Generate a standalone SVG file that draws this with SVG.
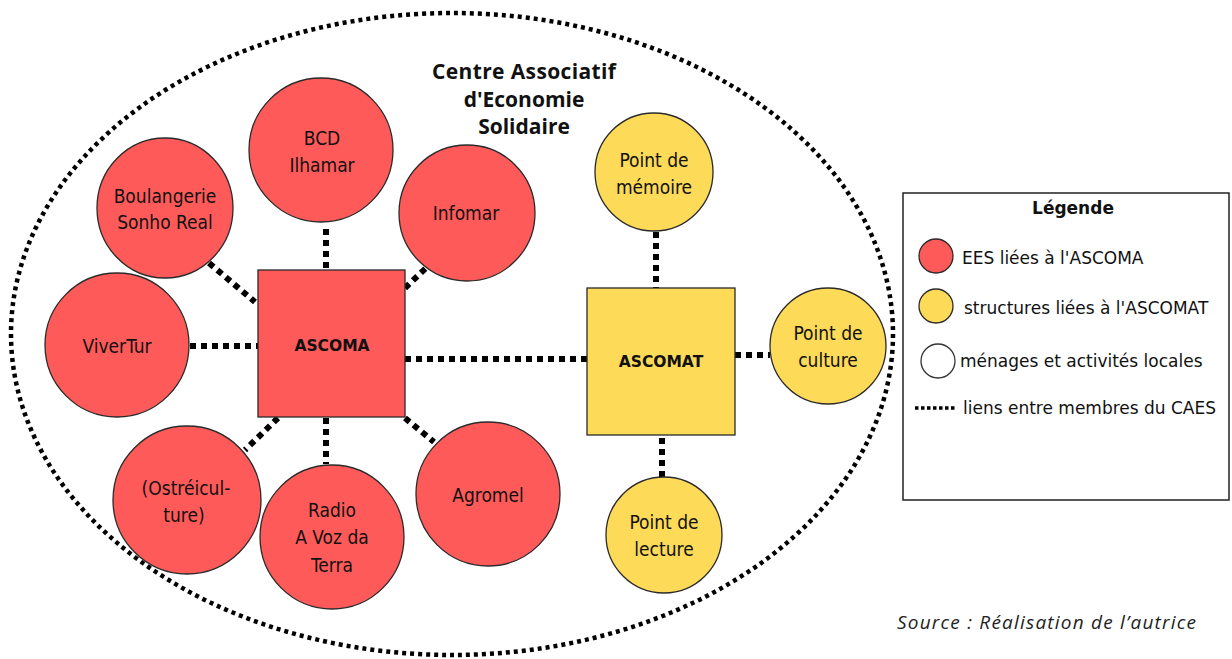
<svg xmlns="http://www.w3.org/2000/svg" width="1232" height="659" viewBox="0 0 1232 659">
<style>
.red{fill:#ff5a5a;stroke:#2a2a2a;stroke-width:1.3}
.yel{fill:#fdda58;stroke:#2a2a2a;stroke-width:1.3}
.lbl{font-family:"DejaVu Sans Condensed","DejaVu Sans",sans-serif;font-stretch:condensed;font-size:19px;fill:#111;text-anchor:middle}
.bold{font-family:"DejaVu Sans",sans-serif;font-weight:bold;font-size:15.5px;fill:#111;text-anchor:middle}
.ttl{font-family:"Open Sans","Noto Sans",sans-serif;font-weight:bold;font-size:21px;fill:#111;text-anchor:middle}
.lnk{stroke:#000;stroke-width:6;stroke-dasharray:6 5;fill:none}
.leg{font-family:"DejaVu Sans",sans-serif;font-size:17px;fill:#111}
</style>
<rect width="1232" height="659" fill="#fff"/>
<ellipse id="caes" cx="452" cy="334" rx="441" ry="321" fill="none" stroke="#000" stroke-width="4.5" stroke-dasharray="4 4"/>
<g id="title">
<text class="ttl" x="524" y="79" textLength="184">Centre Associatif</text>
<text class="ttl" x="524" y="107">d'Economie</text>
<text class="ttl" x="524" y="134">Solidaire</text>
</g>
<g id="connectors">
<line class="lnk" x1="326" y1="229" x2="326" y2="270"/>
<line class="lnk" x1="209" y1="263" x2="255" y2="302"/>
<line class="lnk" x1="405" y1="288" x2="428" y2="266"/>
<line class="lnk" x1="190" y1="346" x2="258" y2="346"/>
<line class="lnk" x1="278" y1="418" x2="245" y2="450"/>
<line class="lnk" x1="326" y1="418" x2="326" y2="464"/>
<line class="lnk" x1="405" y1="418" x2="434" y2="442"/>
<line class="lnk" x1="405" y1="359" x2="587" y2="359"/>
<line class="lnk" x1="656" y1="232" x2="656" y2="288"/>
<line class="lnk" x1="735" y1="355" x2="770" y2="355"/>
<line class="lnk" x1="662" y1="438" x2="662" y2="477"/>
</g>
<g id="ascoma"><rect class="red" x="258" y="270" width="147" height="147"/><text class="bold" x="332" y="351">ASCOMA</text></g>
<g id="ascomat"><rect class="yel" x="587" y="288" width="148" height="147"/><text class="bold" x="661" y="367">ASCOMAT</text></g>
<g id="bcd"><circle class="red" cx="321" cy="150" r="72"/><text class="lbl" x="322" y="145">BCD</text><text class="lbl" x="322" y="172">Ilhamar</text></g>
<g id="boulangerie"><ellipse class="red" cx="165" cy="208" rx="68" ry="70"/><text class="lbl" x="165" y="203">Boulangerie</text><text class="lbl" x="165" y="229">Sonho Real</text></g>
<g id="infomar"><circle class="red" cx="467" cy="213" r="68"/><text class="lbl" x="466" y="220">Infomar</text></g>
<g id="vivertur"><circle class="red" cx="117" cy="345" r="72"/><text class="lbl" x="117" y="353">ViverTur</text></g>
<g id="ostreiculture"><circle class="red" cx="187" cy="500" r="74"/><text class="lbl" x="186" y="495">(Ostréicul-</text><text class="lbl" x="184" y="522">ture)</text></g>
<g id="radio"><circle class="red" cx="332" cy="537" r="72"/><text class="lbl" x="332" y="517">Radio</text><text class="lbl" x="332" y="544">A Voz da</text><text class="lbl" x="332" y="572">Terra</text></g>
<g id="agromel"><circle class="red" cx="488" cy="494" r="72"/><text class="lbl" x="488" y="502">Agromel</text></g>
<g id="memoire"><circle class="yel" cx="654" cy="172" r="59"/><text class="lbl" x="654" y="167">Point de</text><text class="lbl" x="654" y="194">mémoire</text></g>
<g id="culture"><circle class="yel" cx="828" cy="346" r="58"/><text class="lbl" x="828" y="340">Point de</text><text class="lbl" x="828" y="367">culture</text></g>
<g id="lecture"><circle class="yel" cx="664" cy="535" r="58"/><text class="lbl" x="664" y="529">Point de</text><text class="lbl" x="664" y="556">lecture</text></g>
<g id="legend">
<rect x="903" y="193" width="326" height="307" fill="#fff" stroke="#222" stroke-width="1.5"/>
<text class="leg" x="1073" y="214" text-anchor="middle" font-weight="bold" font-size="14">Légende</text>
<circle class="red" cx="936" cy="256" r="17"/>
<text class="leg" x="962" y="264">EES liées à l'ASCOMA</text>
<circle class="yel" cx="936" cy="306" r="17"/>
<text class="leg" x="964" y="314">structures liées à l'ASCOMAT</text>
<circle cx="938" cy="361" r="17" fill="#fff" stroke="#333" stroke-width="1.3"/>
<text class="leg" x="960" y="367">ménages et activités locales</text>
<line x1="915" y1="408" x2="957" y2="408" stroke="#000" stroke-width="3.5" stroke-dasharray="3.5 2.5"/>
<text class="leg" x="963" y="414">liens entre membres du CAES</text>
</g>
<text id="source" x="897" y="629" font-family="'Open Sans',Lato,sans-serif" font-style="italic" font-size="19" textLength="299" fill="#222">Source : Réalisation de l’autrice</text>
</svg>
